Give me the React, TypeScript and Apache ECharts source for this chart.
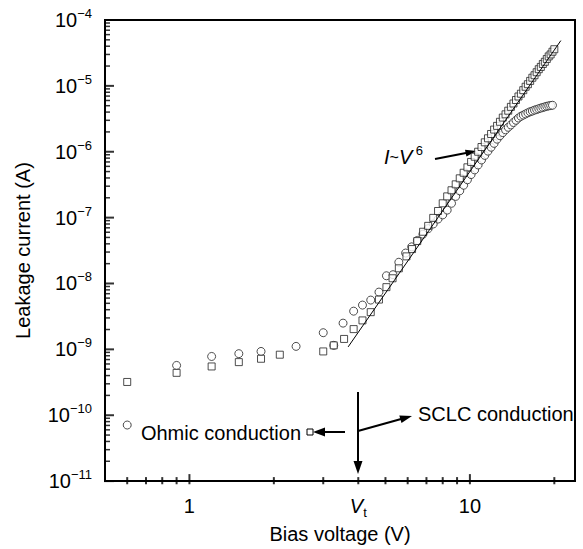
import React, { useEffect, useRef } from 'react';
import * as echarts from 'echarts';

// ---- data ----
const circleV = [0.6, 0.9, 1.2, 1.5, 1.8, 2.4, 3.0, 3.27, 3.53, 3.85, 4.14, 4.43, 4.74, 5.04, 5.32, 5.58, 5.9, 6.2, 6.5, 6.8, 7.1, 7.4, 7.7, 8.0, 8.3, 8.6, 8.9, 9.2, 9.5, 9.8, 10.1, 10.4, 10.7, 11.0, 11.3, 11.6, 11.9, 12.2, 12.5, 12.8, 13.1, 13.4, 13.7, 14.0, 14.3, 14.6, 14.9, 15.2, 15.5, 15.8, 16.1, 16.4, 16.7, 17.0, 17.3, 17.6, 17.9, 18.2, 18.5, 18.8, 19.1, 19.4, 19.7];
const circleI = [7.1e-11, 5.7e-10, 7.8e-10, 8.6e-10, 9.3e-10, 1.11e-9, 1.79e-9, 1.15e-9, 2.5e-9, 3.8e-9, 4.7e-9, 5.6e-9, 7.4e-9, 1.31e-8, 1.36e-8, 2.1e-8, 2.9e-8, 3.6e-8, 4.5e-8, 5.6e-8, 6.8e-8, 8.0e-8, 9.5e-8, 1.1e-7, 1.3e-7, 1.65e-7, 2.1e-7, 2.55e-7, 3.1e-7, 3.75e-7, 4.5e-7, 5.3e-7, 6.3e-7, 7.5e-7, 8.8e-7, 1.02e-6, 1.17e-6, 1.34e-6, 1.55e-6, 1.75e-6, 1.95e-6, 2.15e-6, 2.35e-6, 2.55e-6, 2.78e-6, 3.0e-6, 3.25e-6, 3.45e-6, 3.6e-6, 3.75e-6, 3.9e-6, 4.05e-6, 4.15e-6, 4.28e-6, 4.38e-6, 4.5e-6, 4.6e-6, 4.7e-6, 4.8e-6, 4.9e-6, 4.97e-6, 5.03e-6, 5.08e-6];

const squareV = [0.6, 0.9, 1.2, 1.5, 1.8, 2.1, 3.0, 3.27, 3.56, 3.85, 4.14, 4.43, 4.74, 5.04, 5.3, 5.58, 5.94, 6.22, 6.49, 6.81, 7.1, 7.4, 7.7, 8.0, 8.3, 8.6, 8.9, 9.2, 9.5, 9.8, 10.1, 10.4, 10.7, 11.0, 11.3, 11.6, 11.9, 12.2, 12.5, 12.8, 13.1, 13.4, 13.7, 14.0, 14.3, 14.6, 14.9, 15.2, 15.5, 15.8, 16.1, 16.4, 16.7, 17.0, 17.3, 17.6, 17.9, 18.2, 18.5, 18.8, 19.1, 19.4, 19.7, 20.0];
const squareI = [3.2e-10, 4.4e-10, 5.5e-10, 6.4e-10, 7.2e-10, 8.3e-10, 9.3e-10, 1.15e-9, 1.44e-9, 2.03e-9, 2.75e-9, 3.67e-9, 5.7e-9, 8.8e-9, 1.2e-8, 1.7e-8, 2.58e-8, 3.33e-8, 4.4e-8, 6.1e-8, 7.5e-8, 9.9e-8, 1.26e-7, 1.65e-7, 2.1e-7, 2.6e-7, 3.2e-7, 3.95e-7, 4.8e-7, 5.8e-7, 7.0e-7, 8.4e-7, 1.0e-6, 1.18e-6, 1.39e-6, 1.6e-6, 1.86e-6, 2.17e-6, 2.47e-6, 2.85e-6, 3.3e-6, 3.7e-6, 4.2e-6, 4.8e-6, 5.4e-6, 6.1e-6, 6.9e-6, 7.6e-6, 8.6e-6, 9.7e-6, 1.06e-5, 1.19e-5, 1.33e-5, 1.45e-5, 1.61e-5, 1.79e-5, 1.94e-5, 2.15e-5, 2.32e-5, 2.56e-5, 2.8e-5, 3.0e-5, 3.3e-5, 3.6e-5];

// I ~ V^6 guide line end points
const fitV = [3.68, 21.1];
const fitI = [1.09e-9, 4.87e-5];

// axis ticks / labels
const xMin = 0.5;
const xMax = 23.7;
const yMin = 1e-11;
const yMax = 1e-4;
const xMajor = [1, 10];
const xMinor = [0.6, 0.7, 0.8, 0.9, 2, 3, 4, 5, 6, 7, 8, 9, 20];
const xLabelValues = [1, 4, 10];
const yExponents = [-11, -10, -9, -8, -7, -6, -5, -4];
const yMantissas = [2, 3, 4, 5, 6, 7, 8, 9];

const FONT = '"Liberation Sans", Arial, Helvetica, sans-serif';

// tick marks drawn as thin rect symbols placed through the axes' scales
function tickSeries(data: number[][], size: number[]) {
  return {
    type: 'scatter',
    silent: true,
    clip: false,
    symbol: 'rect',
    symbolSize: size,
    itemStyle: { color: '#000', borderWidth: 0 },
    data,
    z: 8,
  };
}

export default function App() {
  const ref = useRef<HTMLDivElement>(null);
  useEffect(() => {
    if (!ref.current) return;
    const chart = echarts.init(ref.current, undefined, { renderer: 'svg' });
    const yMajor = yExponents.map((e) => Math.pow(10, e));
    const yMinor: number[] = [];
    yExponents.slice(0, -1).forEach((e) => {
      yMantissas.forEach((m) => yMinor.push(parseFloat((m * Math.pow(10, e)).toPrecision(3))));
    });
    const black = '#000';
    const option: any = {
      animation: false,
      textStyle: { fontFamily: FONT },
      grid: { left: 105, right: 8, top: 20, bottom: 66, show: true, borderColor: black, borderWidth: 2, backgroundColor: 'transparent' },
      xAxis: {
        type: 'log', logBase: 10, min: xMin, max: xMax, position: 'bottom',
        axisLine: { show: true, lineStyle: { color: black, width: 2 } },
        axisTick: { show: false },
        axisLabel: {
          show: true, customValues: xLabelValues, margin: 12, color: black,
          formatter: (v: number) => (Math.abs(v - 4) < 1e-6 ? '{i|V}{sub|t}' : '{n|' + Math.round(v) + '}'),
          rich: {
            n: { fontSize: 20, lineHeight: 26, fontFamily: FONT, color: black },
            i: { fontSize: 20, lineHeight: 26, fontStyle: 'italic', fontFamily: FONT, color: black },
            sub: { fontSize: 13, lineHeight: 13, verticalAlign: 'bottom', fontFamily: FONT, color: black },
          },
        },
        splitLine: { show: false },
        name: 'Bias voltage (V)', nameLocation: 'middle', nameGap: 40,
        nameTextStyle: { fontSize: 20, color: black, fontFamily: FONT },
      },
      yAxis: {
        type: 'log', logBase: 10, min: yMin, max: yMax, position: 'left',
        axisLine: { show: true, lineStyle: { color: black, width: 2 } },
        axisTick: { show: false },
        axisLabel: {
          show: true, customValues: yMajor, margin: 13, color: black,
          formatter: (v: number) => '{b|10}{s|\u2212' + -Math.round(Math.log10(v)) + '}',
          rich: {
            b: { fontSize: 20, lineHeight: 26, fontFamily: FONT, color: black },
            s: { fontSize: 13, lineHeight: 13, verticalAlign: 'top', fontFamily: FONT, color: black },
          },
        },
        splitLine: { show: false },
        name: 'Leakage current (A)', nameLocation: 'middle', nameGap: 72,
        nameTextStyle: { fontSize: 20, color: black, fontFamily: FONT },
      },
      series: [
        {
          type: 'scatter', name: 'circles', symbol: 'circle', symbolSize: 8, silent: true,
          itemStyle: { color: '#fff', borderColor: '#222', borderWidth: 1 },
          data: circleV.map((v, i) => [v, circleI[i]]),
          z: 2,
        },
        {
          type: 'scatter', name: 'squares', symbol: 'rect', symbolSize: 7, silent: true,
          itemStyle: { color: '#fff', borderColor: '#222', borderWidth: 1 },
          data: squareV.map((v, i) => [v, squareI[i]]),
          z: 3,
        },
        {
          type: 'line', name: 'fit', symbol: 'none', silent: true,
          lineStyle: { color: black, width: 1 },
          data: fitV.map((v, i) => [v, fitI[i]]),
          z: 4,
        },
        tickSeries(xMajor.map((v) => [v, yMin]), [2, 14]),
        tickSeries(xMinor.map((v) => [v, yMin]), [2, 8]),
        tickSeries(yMajor.map((v) => [xMin, v]), [18, 2]),
        tickSeries(yMinor.map((v) => [xMin, v]), [10, 1.5]),
      ],
      graphic: [
        // thin white masks keep the tick symbols on the inner side of the axes only
        { type: 'rect', z: 100, shape: { x: 94, y: 10, width: 10, height: 480 }, style: { fill: '#fff' } },
        { type: 'rect', z: 100, shape: { x: 95, y: 484.3, width: 490, height: 8 }, style: { fill: '#fff' } },
        // V_t arrow
        { type: 'line', shape: { x1: 358, y1: 392, x2: 358, y2: 463 }, style: { stroke: black, lineWidth: 2 } },
        { type: 'polygon', shape: { points: [[353.5, 461], [362.5, 461], [358, 474]] }, style: { fill: black } },
        // SCLC arrow
        { type: 'line', shape: { x1: 358, y1: 431, x2: 402, y2: 418.8 }, style: { stroke: black, lineWidth: 2 } },
        { type: 'polygon', shape: { points: [[412, 416], [401.5, 423.1], [399.3, 415.4]] }, style: { fill: black } },
        { type: 'text', x: 418, y: 414, style: { text: 'SCLC conduction', fontSize: 20, fontFamily: FONT, fill: black, align: 'left', verticalAlign: 'middle' } },
        // Ohmic arrow
        { type: 'line', shape: { x1: 345, y1: 432, x2: 324, y2: 432 }, style: { stroke: black, lineWidth: 2 } },
        { type: 'polygon', shape: { points: [[313, 432], [325, 427.5], [325, 436.5]] }, style: { fill: black } },
        { type: 'rect', shape: { x: 307, y: 429, width: 6, height: 6 }, style: { fill: '#fff', stroke: black, lineWidth: 1 } },
        { type: 'text', x: 301, y: 433, style: { text: 'Ohmic conduction', fontSize: 20, fontFamily: FONT, fill: black, align: 'right', verticalAlign: 'middle' } },
        // I ~ V^6 label and arrow
        {
          type: 'text', x: 384, y: 157,
          style: {
            text: '{i|I}{t|~}{i|V}{s| 6}', fill: black, align: 'left', verticalAlign: 'middle',
            rich: {
              i: { fontSize: 20, fontStyle: 'italic', fontFamily: FONT, lineHeight: 26, fill: black },
              t: { fontSize: 16, fontFamily: FONT, lineHeight: 26, fill: black },
              s: { fontSize: 13, fontFamily: FONT, lineHeight: 13, verticalAlign: 'top', fill: black },
            },
          },
        },
        { type: 'line', shape: { x1: 435, y1: 159, x2: 466, y2: 153 }, style: { stroke: black, lineWidth: 2 } },
        { type: 'polygon', shape: { points: [[476.5, 151], [466.4, 156.5], [465.0, 149.7]] }, style: { fill: black } },
      ],
    };
    chart.setOption(option);
    return () => chart.dispose();
  }, []);
  return <div ref={ref} style={{ position: 'absolute', left: 0, top: 0, width: 583, height: 549 }} />;
}
